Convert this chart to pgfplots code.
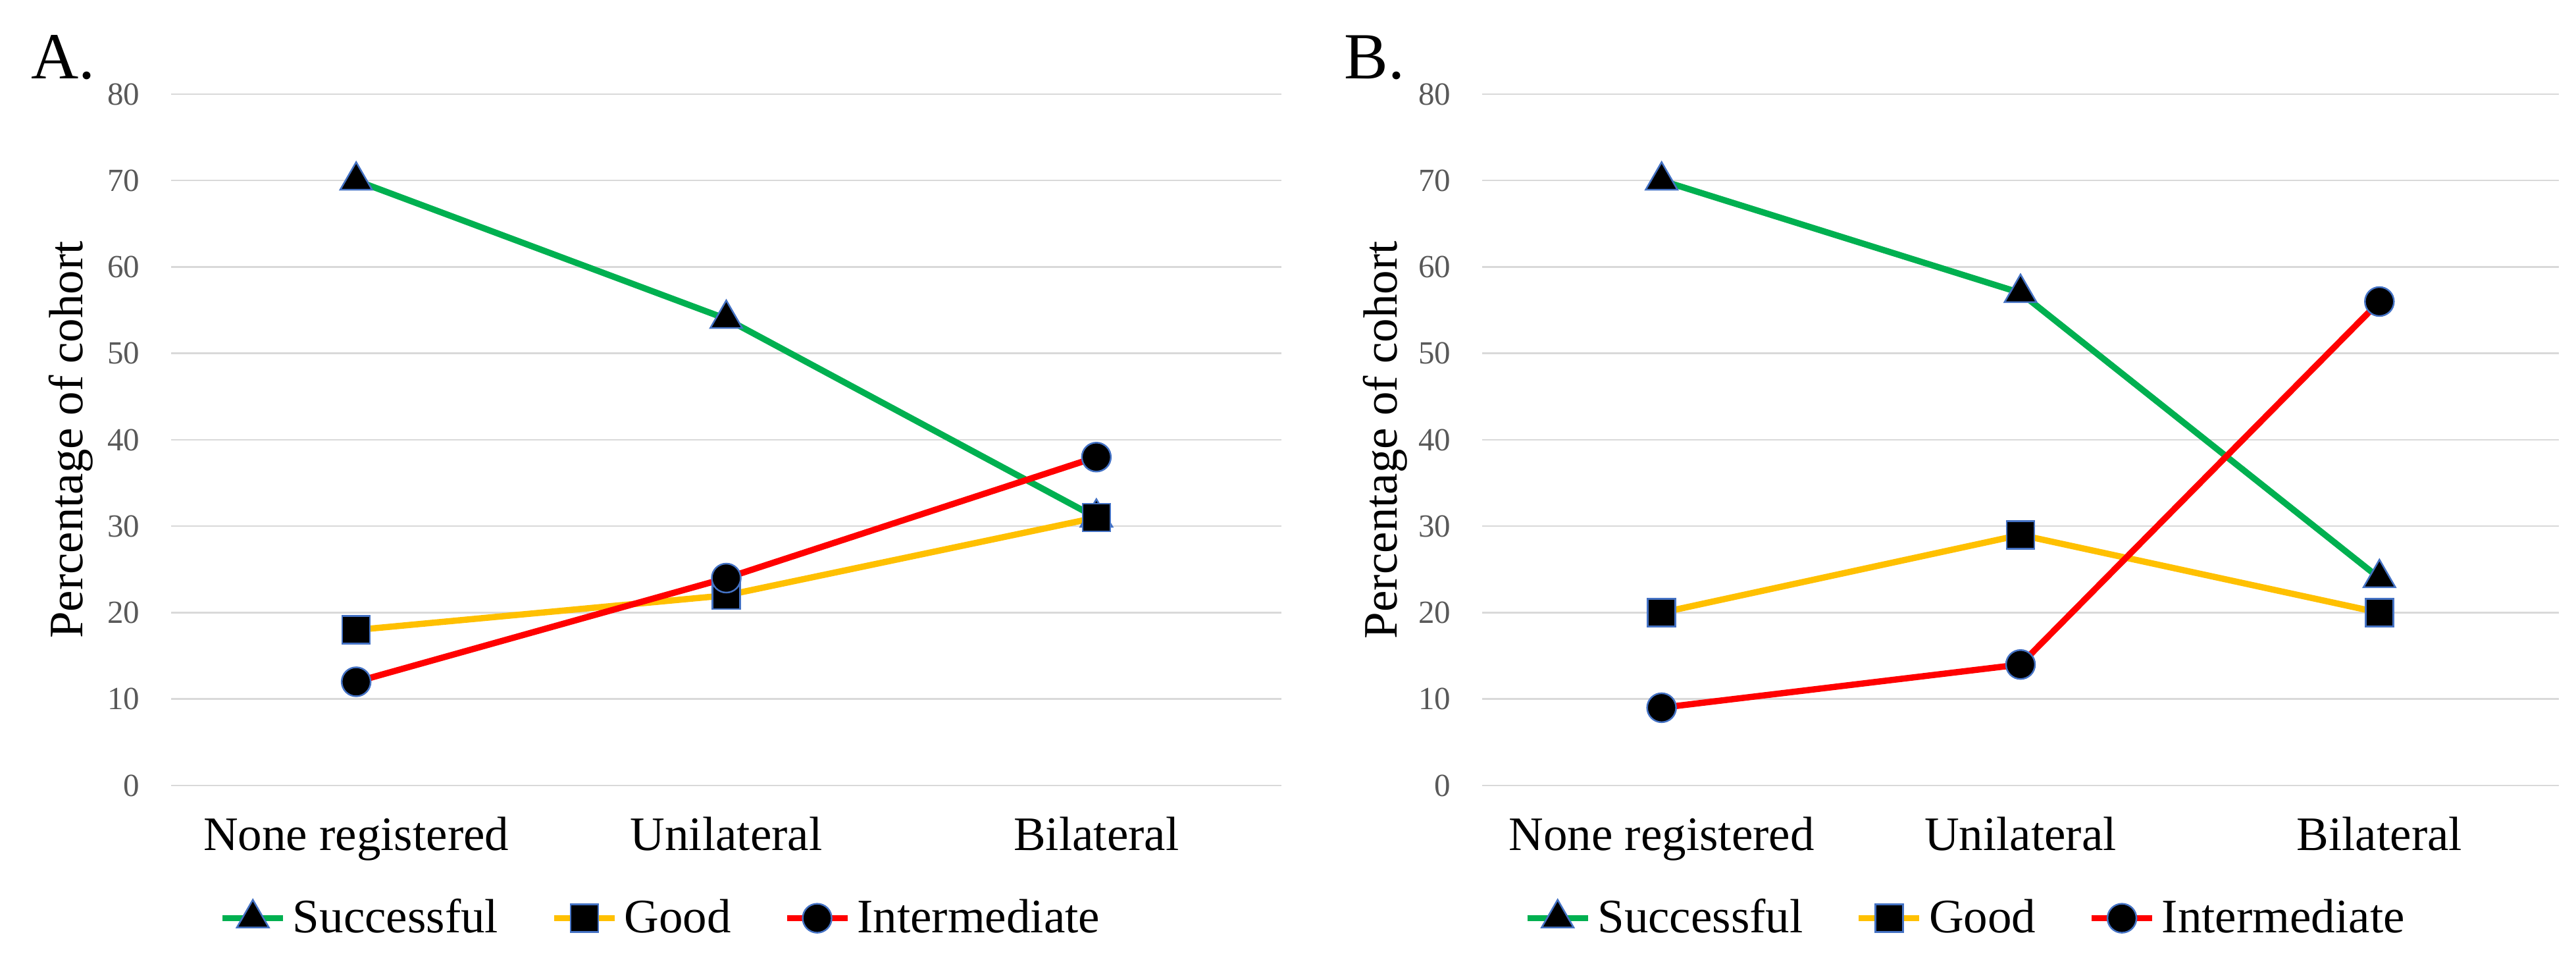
\documentclass[border=0pt]{standalone}
\usepackage{fontspec}
\setmainfont{Liberation Serif}
\usepackage{pgfplots}
\pgfplotsset{compat=1.18}

\definecolor{cgreen}{HTML}{00B050}
\definecolor{cgold}{HTML}{FFC000}
\definecolor{cred}{HTML}{FF0000}
\definecolor{cgrid}{HTML}{D9D9D9}
\definecolor{ctick}{HTML}{595959}
\definecolor{cedge}{HTML}{4472C4}

% 1 px of the reference = 0.2pt
\pgfplotsset{
  panel/.style={
    scale only axis, height=210pt,
    xmin=-0.5, xmax=2.5, ymin=0, ymax=80,
    xtick={0,1,2}, xticklabels={None registered,Unilateral,Bilateral},
    ytick={0,10,...,80},
    ymajorgrids, major grid style={cgrid, line width=0.5pt},
    axis line style={draw=none},
    tick style={draw=none}, major tick length=0pt,
    /pgf/number format/assume math mode=true,
    yticklabel style={font=\fontsize{9.8}{11}\selectfont, text=ctick, xshift=-6pt},
    xticklabel style={font=\fontsize{14.6}{16}\selectfont, yshift=-6pt},
    ylabel={Percentage of cohort},
    ylabel style={font=\fontsize{14.6}{16}\selectfont, at={(axis description cs:-0.09,0.5)}, anchor=center},
    clip=false,
    legend columns=3,
    legend style={draw=none, fill=none, font=\fontsize{14.6}{16}\selectfont, inner sep=0pt,
      /tikz/every even column/.append style={column sep=14pt}},
    legend image code/.code={
      \draw[mark repeat=2,mark phase=2] plot coordinates {(0pt,0pt) (9.2pt,0pt) (18.4pt,0pt)};
    },
  },
  succ/.style={cgreen, line width=1.9pt, mark=triangle*, mark size=5.6pt,
    mark options={fill=black, draw=cedge, line width=0.5pt}},
  good/.style={cgold, line width=1.9pt, mark=square*, mark size=4.2pt,
    mark options={fill=black, draw=cedge, line width=0.5pt}},
  inter/.style={cred, line width=1.9pt, mark=*, mark size=4.4pt,
    mark options={fill=black, draw=cedge, line width=0.5pt}},
}

\begin{document}
\begin{tikzpicture}
\path[use as bounding box] (0,0) rectangle (782.8pt,-291pt);

\node[anchor=base west, font=\fontsize{20}{22}\selectfont] at (6pt,-24pt) {A.};
\node[anchor=base west, font=\fontsize{20}{22}\selectfont] at (405pt,-24pt) {B.};

\begin{axis}[panel, width=337.4pt, at={(52pt,-238.6pt)}, anchor=south west,
  legend style={at={(axis description cs:0.443,-0.192)}, anchor=center}]
\addplot[succ] coordinates {(0,70) (1,54) (2,31)};
\addlegendentry{Successful}
\addplot[good] coordinates {(0,18) (1,22) (2,31)};
\addlegendentry{Good}
\addplot[inter] coordinates {(0,12) (1,24) (2,38)};
\addlegendentry{Intermediate}
\end{axis}

\begin{axis}[panel, width=327.2pt, at={(450.4pt,-238.6pt)}, anchor=south west,
  legend style={at={(axis description cs:0.451,-0.192)}, anchor=center}]
\addplot[succ] coordinates {(0,70) (1,57) (2,24)};
\addlegendentry{Successful}
\addplot[good] coordinates {(0,20) (1,29) (2,20)};
\addlegendentry{Good}
\addplot[inter] coordinates {(0,9) (1,14) (2,56)};
\addlegendentry{Intermediate}
\end{axis}
\end{tikzpicture}
\end{document}
